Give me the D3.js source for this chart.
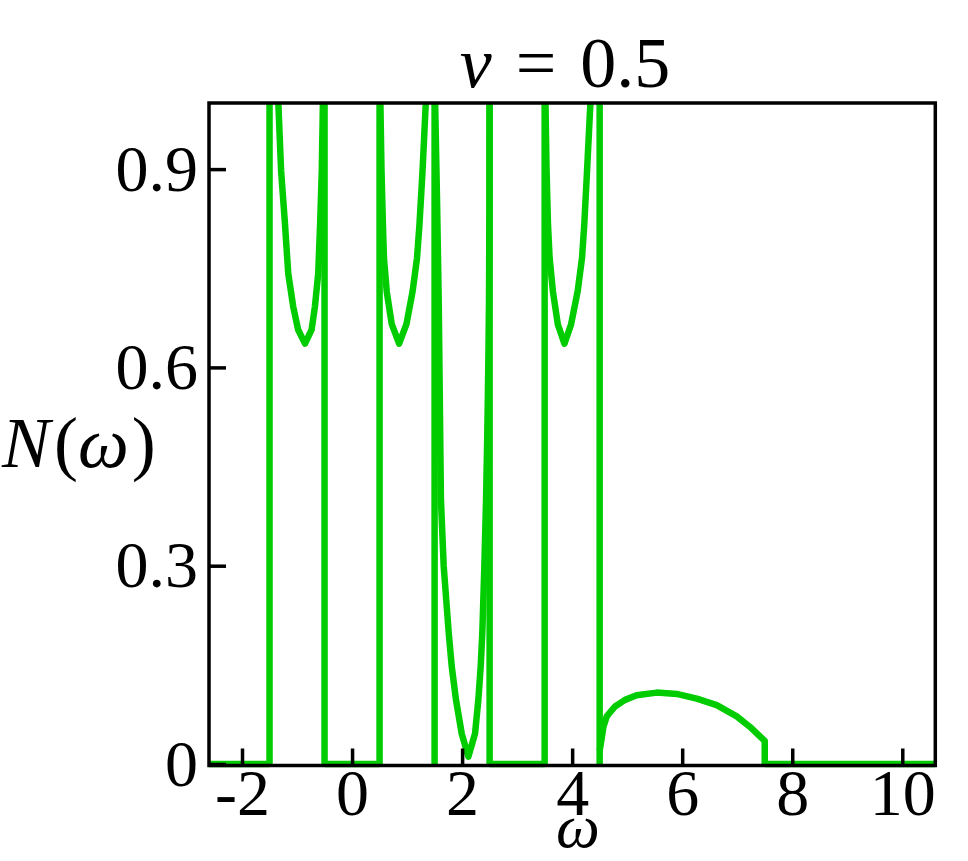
<!DOCTYPE html>
<html>
<head>
<meta charset="utf-8">
<script src="https://cdn.jsdelivr.net/npm/d3@7"></script>
<style>
  body { margin: 0; background: #fff; }
  svg { display: block; }
</style>
</head>
<body>
<div id="chart"></div>
<script>
 // ticks
 const xTicks = [-2, 0, 2, 4, 6, 8, 10];
 const xTickLabels = ["-2", "0", "2", "4", "6", "8", "10"];
 const yTicks = [0, 0.3, 0.6, 0.9];
 const yTickLabels = ["0", "0.3", "0.6", "0.9"];

 // vertical spikes (going off the top)
 const peakOmega = [-1.5, -0.5, 0.5, 1.5, 2.5, 3.5, 4.5];
 // flat zero pieces
 const gapFrom = [-2.6, -0.5, 2.5, 7.5];
 const gapTo = [-1.5, 0.5, 3.5, 10.6];

 // band -1.5 .. -0.5
 const band1Omega = [-1.355, -1.34, -1.29, -1.22, -1.16, -1.07, -0.98, -0.855, -0.735, -0.675, -0.615, -0.58, -0.55, -0.53, -0.525];
 const band1N = [1.03, 1.0, 0.898, 0.818, 0.742, 0.692, 0.657, 0.636, 0.657, 0.692, 0.742, 0.818, 0.898, 1.0, 1.03];
 // band 0.5 .. 1.5
 const band2Omega = [0.505, 0.515, 0.535, 0.56, 0.58, 0.63, 0.72, 0.855, 0.99, 1.10, 1.18, 1.225, 1.28, 1.34, 1.355];
 const band2N = [1.03, 1.0, 0.898, 0.818, 0.765, 0.715, 0.666, 0.636, 0.666, 0.715, 0.765, 0.816, 0.896, 1.0, 1.03];
 // band 1.5 .. 2.5 (goes down to ~0)
 const band3Omega = [1.505, 1.51, 1.545, 1.575, 1.595, 1.615, 1.665, 1.757, 1.811, 1.889, 1.993, 2.113, 2.235, 2.295, 2.338, 2.367, 2.404, 2.435, 2.458, 2.476, 2.489, 2.497, 2.5];
 const band3N = [1.03, 1.0, 0.85, 0.70, 0.55, 0.40, 0.30, 0.198, 0.148, 0.097, 0.046, 0.011, 0.046, 0.097, 0.148, 0.198, 0.298, 0.399, 0.5, 0.601, 0.702, 0.85, 1.03];
 // band 3.5 .. 4.5
 const band4Omega = [3.505, 3.515, 3.535, 3.56, 3.59, 3.65, 3.74, 3.86, 3.98, 4.10, 4.18, 4.22, 4.27, 4.33, 4.345];
 const band4N = [1.03, 1.0, 0.898, 0.818, 0.766, 0.715, 0.665, 0.636, 0.665, 0.715, 0.766, 0.816, 0.896, 0.997, 1.03];
 // low dome 4.5 .. 7.5
 const band5Omega = [4.5, 4.537, 4.567, 4.628, 4.779, 4.961, 5.173, 5.537, 5.9, 6.264, 6.628, 6.991, 7.233, 7.475, 7.5, 7.5];
 const band5N = [0.02, 0.039, 0.056, 0.072, 0.087, 0.097, 0.104, 0.108, 0.106, 0.099, 0.089, 0.072, 0.056, 0.037, 0.035, 0];

 const green = "#00cc00";
 const serif = "'Liberation Serif', serif";
 const width = 968,
     height = 861;

 const x = d3.scaleLinear()
     .domain([-2.6, 10.6])
     .range([209, 935.3]);
 const y = d3.scaleLinear()
     .domain([0, 1])
     .range([764, 103]);
 const axisY = 765.5; // bottom frame line sits a bit under zero

 const svg = d3.select("#chart").append("svg")
     .attr("width", width)
     .attr("height", height);

 svg.append("clipPath")
     .attr("id", "plotclip")
     .append("rect")
     .attr("x", x.range()[0])
     .attr("y", y(1))
     .attr("width", x.range()[1] - x.range()[0])
     .attr("height", axisY + 4 - y(1));

 const plot = svg.append("g").attr("clip-path", "url(#plotclip)");

 const line = d3.line()
     .x(d => x(d[0]))
     .y(d => y(d[1]));

 // zero segments
 plot.selectAll(".gap")
     .data(d3.zip(gapFrom, gapTo))
     .enter().append("path")
     .attr("class", "gap")
     .attr("d", d => line([[d[0], 0], [d[1], 0]]))
     .attr("fill", "none")
     .attr("stroke", green)
     .attr("stroke-width", 6.5);

 // spikes
 plot.selectAll(".peak")
     .data(peakOmega)
     .enter().append("path")
     .attr("class", "peak")
     .attr("d", d => line([[d, 0], [d, 1.05]]))
     .attr("fill", "none")
     .attr("stroke", green)
     .attr("stroke-width", 6.5);

 // bands
 const bands = [
     d3.zip(band1Omega, band1N),
     d3.zip(band2Omega, band2N),
     d3.zip(band3Omega, band3N),
     d3.zip(band4Omega, band4N),
     d3.zip(band5Omega, band5N)
 ];
 plot.selectAll(".band")
     .data(bands)
     .enter().append("path")
     .attr("class", "band")
     .attr("d", line)
     .attr("fill", "none")
     .attr("stroke", green)
     .attr("stroke-width", 6.5)
     .attr("stroke-linejoin", "round");

 // frame
 svg.append("rect")
     .attr("x", x.range()[0])
     .attr("y", y(1))
     .attr("width", x.range()[1] - x.range()[0])
     .attr("height", axisY - y(1))
     .attr("fill", "none")
     .attr("stroke", "#000")
     .attr("stroke-width", 3.5);

 // axes, ticks pointing inside
 const xAxis = d3.axisBottom(x)
     .tickValues(xTicks)
     .tickFormat((d, i) => xTickLabels[i])
     .tickSizeInner(-17)
     .tickSizeOuter(0)
     .tickPadding(3);
 const yAxis = d3.axisLeft(y)
     .tickValues(yTicks)
     .tickFormat((d, i) => yTickLabels[i])
     .tickSizeInner(-17)
     .tickSizeOuter(0)
     .tickPadding(11);

 const gx = svg.append("g")
     .attr("transform", "translate(0," + axisY + ")")
     .call(xAxis);
 const gy = svg.append("g")
     .attr("transform", "translate(" + x.range()[0] + ",0)")
     .call(yAxis);

 [gx, gy].forEach(g => {
     g.select(".domain").remove();
     g.selectAll(".tick line")
         .attr("stroke", "#000")
         .attr("stroke-width", 3.5);
     g.selectAll(".tick text")
         .attr("fill", "#000")
         .style("font-family", serif)
         .style("font-size", "66px");
 });

 // title  v = 0.5
 const title = svg.append("text")
     .attr("x", 565)
     .attr("y", 87)
     .attr("text-anchor", "middle")
     .style("font-family", serif)
     .style("font-size", "72px");
 title.append("tspan").style("font-style", "italic").text("v");
 title.append("tspan").attr("dx", 24).text("=");
 title.append("tspan").attr("dx", 24).text("0.5");

 // y label N(ω)
 const ylab = svg.append("text")
     .attr("x", 2)
     .attr("y", 467)
     .style("font-family", serif)
     .style("font-size", "72px");
 ylab.append("tspan").style("font-style", "italic").text("N");
 ylab.append("tspan").attr("dx", 4).text("(");
 ylab.append("tspan").style("font-style", "italic").text("ω");
 ylab.append("tspan").attr("dx", 3).text(")");

 // x label ω
 svg.append("text")
     .attr("x", 578)
     .attr("y", 847)
     .attr("text-anchor", "middle")
     .style("font-family", serif)
     .style("font-style", "italic")
     .style("font-size", "62px")
     .text("ω");
</script>
</body>
</html>
